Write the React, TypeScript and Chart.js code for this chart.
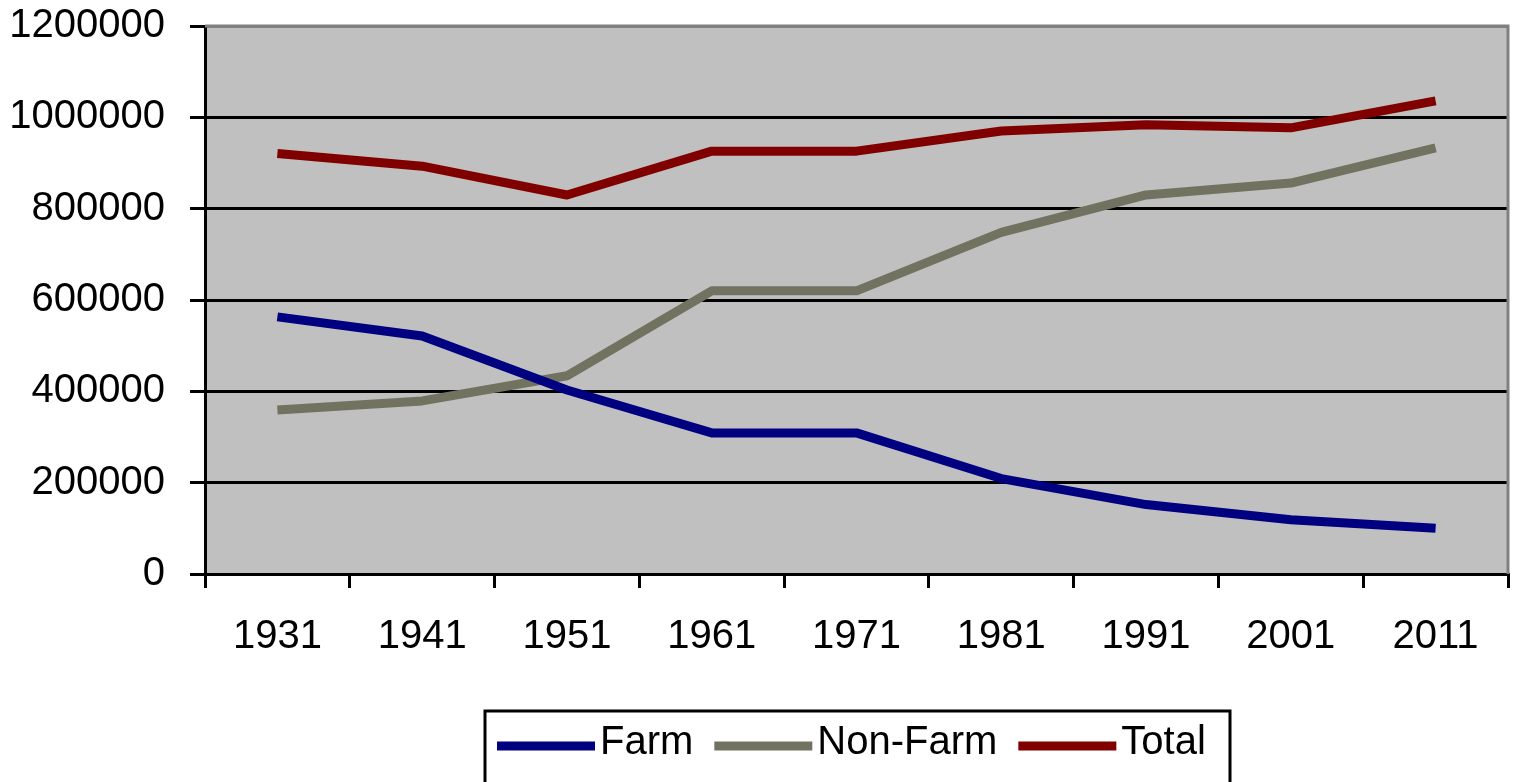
import React, { useEffect, useRef } from "react";
import { Chart, registerables } from "chart.js";

Chart.register(...registerables);

const categories = ["1931", "1941", "1951", "1961", "1971", "1981", "1991", "2001", "2011"];
const farmValues = [563000, 521000, 403000, 309000, 309000, 209000, 152000, 119000, 100000];
const nonFarmValues = [359000, 379000, 434000, 620000, 620000, 748000, 830000, 856000, 933000];
const totalValues = [921000, 893000, 830000, 926000, 926000, 970000, 984000, 977000, 1036000];
const seriesNames = ["Farm", "Non-Farm", "Total"];
const seriesColors = ["#000080", "#727261", "#800000"];
const yMin = 0;
const yMax = 1200000;
const yStep = 200000;

const FONT = "'Liberation Sans', Arial, sans-serif";

const plotBgPlugin = {
  id: "plotBg",
  beforeDraw(chart: any) {
    const { ctx, chartArea } = chart;
    ctx.save();
    ctx.fillStyle = "#ffffff";
    ctx.fillRect(0, 0, chart.width, chart.height);
    ctx.fillStyle = "#C0C0C0";
    ctx.fillRect(chartArea.left, chartArea.top, chartArea.right - chartArea.left, chartArea.bottom - chartArea.top);
    ctx.restore();
  },
  beforeDatasetsDraw(chart: any) {
    const { ctx, chartArea } = chart;
    ctx.save();
    ctx.strokeStyle = "#808080";
    ctx.lineWidth = 3;
    ctx.beginPath();
    ctx.moveTo(chartArea.left, chartArea.top);
    ctx.lineTo(chartArea.right, chartArea.top);
    ctx.lineTo(chartArea.right, chartArea.bottom);
    ctx.stroke();
    ctx.restore();
  },
};

const boxLegendPlugin = {
  id: "boxLegend",
  afterDraw(chart: any) {
    const { ctx } = chart;
    ctx.save();
    ctx.strokeStyle = "#000000";
    ctx.lineWidth = 3;
    ctx.strokeRect(485, 711, 745, 90);
    ctx.font = `40px ${FONT}`;
    ctx.textBaseline = "alphabetic";
    ctx.textAlign = "left";
    let x = 497;
    const yLine = 746;
    chart.data.datasets.forEach((ds: any) => {
      ctx.strokeStyle = ds.borderColor;
      ctx.lineWidth = 9;
      ctx.beginPath();
      ctx.moveTo(x, yLine);
      ctx.lineTo(x + 98, yLine);
      ctx.stroke();
      ctx.fillStyle = "#000000";
      ctx.fillText(ds.label, x + 103, 754);
      x += 103 + ctx.measureText(ds.label).width + 21;
    });
    ctx.restore();
  },
};

export default function App() {
  const canvasRef = useRef<HTMLCanvasElement | null>(null);

  useEffect(() => {
    if (!canvasRef.current) return;
    const valueSets = [farmValues, nonFarmValues, totalValues];
    const chart = new Chart(canvasRef.current, {
      type: "line",
      data: {
        labels: categories,
        datasets: valueSets.map((vals, i) => ({
          label: seriesNames[i],
          data: vals,
          borderColor: seriesColors[i],
          backgroundColor: seriesColors[i],
          borderWidth: 9,
          pointRadius: 0,
          tension: 0,
          borderJoinStyle: "round" as const,
          fill: false,
        })),
      },
      options: {
        responsive: false,
        animation: false,
        devicePixelRatio: 1,
        layout: { padding: { top: 26, right: 5, left: 0, bottom: 0 } },
        plugins: {
          legend: { display: false },
          tooltip: { enabled: false },
        },
        scales: {
          x: {
            type: "category",
            offset: true,
            grid: {
              offset: true,
              drawOnChartArea: false,
              drawTicks: true,
              tickLength: 14,
              tickColor: "#000000",
              tickWidth: 3,
              lineWidth: 3,
              color: "#000000",
            },
            border: { display: true, color: "#000000", width: 3 },
            ticks: {
              color: "#000000",
              font: { family: FONT, size: 40 },
              padding: 25,
              maxRotation: 0,
              autoSkip: false,
            },
            afterFit: (scale: any) => {
              scale.height = 208;
              scale.paddingLeft = 0;
              scale.paddingRight = 0;
            },
          },
          y: {
            min: yMin,
            max: yMax,
            grid: {
              color: (c: any) => (c.tick && c.tick.value === yMax ? "#808080" : "#000000"),
              tickColor: "#000000",
              lineWidth: 3,
              tickLength: 15,
              drawTicks: true,
            },
            border: { display: true, color: "#000000", width: 3 },
            ticks: {
              stepSize: yStep,
              color: "#000000",
              font: { family: FONT, size: 40 },
              padding: 25,
              callback: (v: any) => String(v),
            },
            afterFit: (scale: any) => {
              scale.width = 205;
              scale.paddingTop = 0;
              scale.paddingBottom = 0;
            },
          },
        },
      },
      plugins: [plotBgPlugin, boxLegendPlugin],
    });
    return () => chart.destroy();
  }, []);

  return (
    <div style={{ position: "absolute", left: 0, top: 0, width: 1513, height: 782 }}>
      <canvas ref={canvasRef} width={1513} height={782} />
    </div>
  );
}
